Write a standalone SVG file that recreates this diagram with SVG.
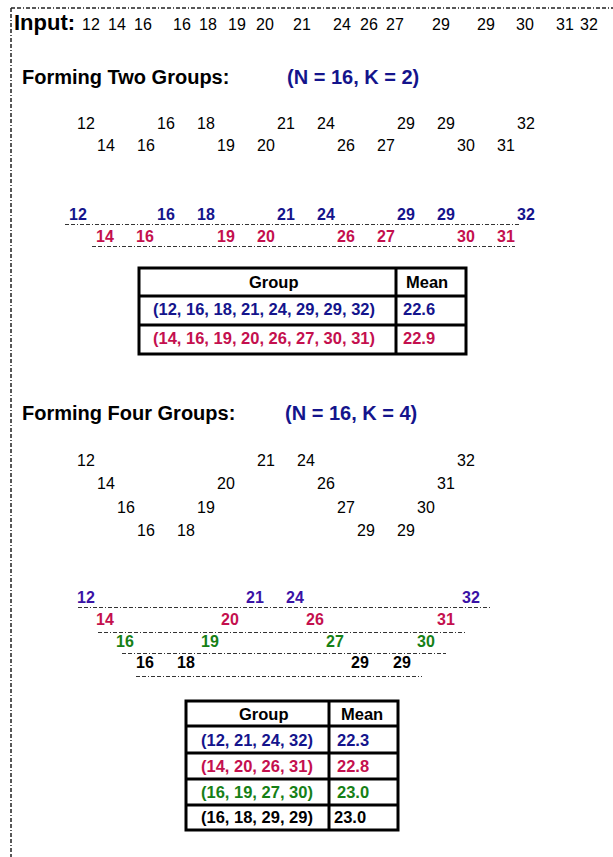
<svg xmlns="http://www.w3.org/2000/svg" width="613" height="857" viewBox="0 0 613 857">
<style>
text{font-family:"Liberation Sans",Arial,sans-serif;fill:#000}
.t{font-size:16px}
.n{font-size:16px}
.b{font-size:16px;font-weight:bold}
.h{font-size:20px;font-weight:bold}
.tb{font-size:16.5px;font-weight:bold}
.navy{fill:#14148c}
.red{fill:#c4104e}
.grn{fill:#168016}
.pur{fill:#3a12a6}
.dl{stroke:#333;stroke-width:1;stroke-dasharray:4 2 4 2 1 2;fill:none}
.bd{stroke:#222;stroke-width:1.5;stroke-dasharray:4 2 4 2 1 2;fill:none}
.tbl{stroke:#000;stroke-width:3;fill:#fff}
.tl{stroke:#000;stroke-width:3}
</style>
<rect width="613" height="857" fill="#fff"/>
<g id="border">
<line class="bd" x1="11" y1="8" x2="613" y2="8"/>
<line class="bd" x1="11" y1="8" x2="11" y2="857"/>
</g>
<g id="input">
<text x="14" y="30" style="font-size:22px;font-weight:bold">Input:</text>
<text class="t" y="30"><tspan x="82">12</tspan><tspan x="108">14</tspan><tspan x="134">16</tspan><tspan x="173">16</tspan><tspan x="199">18</tspan><tspan x="228">19</tspan><tspan x="256">20</tspan><tspan x="293">21</tspan><tspan x="333">24</tspan><tspan x="360">26</tspan><tspan x="386">27</tspan><tspan x="432">29</tspan><tspan x="477">29</tspan><tspan x="516">30</tspan><tspan x="556">31</tspan><tspan x="580">32</tspan></text>
</g>
<g id="two-groups-title">
<text class="h" x="22" y="84">Forming Two Groups:</text>
<text class="h navy" x="287" y="84">(N = 16, K = 2)</text>
</g>
<g id="two-groups-scatter">
<text class="n" y="129"><tspan x="77">12</tspan><tspan x="157">16</tspan><tspan x="197">18</tspan><tspan x="277">21</tspan><tspan x="317">24</tspan><tspan x="397">29</tspan><tspan x="437">29</tspan><tspan x="517">32</tspan></text>
<text class="n" y="151"><tspan x="97">14</tspan><tspan x="137">16</tspan><tspan x="217">19</tspan><tspan x="257">20</tspan><tspan x="337">26</tspan><tspan x="377">27</tspan><tspan x="457">30</tspan><tspan x="497">31</tspan></text>
</g>
<g id="two-groups-rows">
<text class="b navy" y="220"><tspan x="69">12</tspan><tspan x="157">16</tspan><tspan x="197">18</tspan><tspan x="277">21</tspan><tspan x="317">24</tspan><tspan x="397">29</tspan><tspan x="437">29</tspan><tspan x="517">32</tspan></text>
<text class="b red" y="242"><tspan x="96">14</tspan><tspan x="136">16</tspan><tspan x="217">19</tspan><tspan x="257">20</tspan><tspan x="337">26</tspan><tspan x="377">27</tspan><tspan x="457">30</tspan><tspan x="497">31</tspan></text>
</g>
<g id="connectors">
<line class="dl" x1="65" y1="224.5" x2="520" y2="224.5"/>
<line class="dl" x1="92" y1="246.5" x2="515" y2="246.5"/>
<line class="dl" x1="78" y1="607.5" x2="490" y2="607.5"/>
<line class="dl" x1="98" y1="632.5" x2="465" y2="632.5"/>
<line class="dl" x1="122" y1="653.5" x2="446" y2="653.5"/>
<line class="dl" x1="136" y1="676.5" x2="422" y2="676.5"/>
</g>
<g id="table-two">
<rect class="tbl" x="139" y="268" width="327" height="86"/>
<line class="tl" x1="396" y1="268" x2="396" y2="354"/>
<line class="tl" x1="139" y1="296" x2="466" y2="296"/>
<line class="tl" x1="139" y1="325" x2="466" y2="325"/>
<text class="tb" x="249" y="288">Group</text>
<text class="tb" x="406" y="288">Mean</text>
<text class="tb navy" x="153" y="315">(12, 16, 18, 21, 24, 29, 29, 32)</text>
<text class="tb navy" x="403" y="315">22.6</text>
<text class="tb red" x="153" y="344">(14, 16, 19, 20, 26, 27, 30, 31)</text>
<text class="tb red" x="403" y="344">22.9</text>
</g>
<g id="four-groups-title">
<text class="h" x="22" y="420">Forming Four Groups:</text>
<text class="h navy" x="285" y="420">(N = 16, K = 4)</text>
</g>
<g id="four-groups-scatter">
<text class="n" y="466"><tspan x="77">12</tspan><tspan x="257">21</tspan><tspan x="297">24</tspan><tspan x="457">32</tspan></text>
<text class="n" y="489"><tspan x="97">14</tspan><tspan x="217">20</tspan><tspan x="317">26</tspan><tspan x="437">31</tspan></text>
<text class="n" y="513"><tspan x="117">16</tspan><tspan x="197">19</tspan><tspan x="337">27</tspan><tspan x="417">30</tspan></text>
<text class="n" y="536"><tspan x="137">16</tspan><tspan x="177">18</tspan><tspan x="357">29</tspan><tspan x="397">29</tspan></text>
</g>
<g id="four-groups-rows">
<text class="b pur" y="603"><tspan x="77">12</tspan><tspan x="246">21</tspan><tspan x="286">24</tspan><tspan x="462">32</tspan></text>
<text class="b red" y="625"><tspan x="96">14</tspan><tspan x="221">20</tspan><tspan x="306">26</tspan><tspan x="437">31</tspan></text>
<text class="b grn" y="647"><tspan x="116">16</tspan><tspan x="201">19</tspan><tspan x="326">27</tspan><tspan x="417">30</tspan></text>
<text class="b" y="668"><tspan x="136">16</tspan><tspan x="177">18</tspan><tspan x="351">29</tspan><tspan x="393">29</tspan></text>
</g>
<g id="table-four">
<rect class="tbl" x="186" y="701" width="212" height="129"/>
<line class="tl" x1="329" y1="701" x2="329" y2="830"/>
<line class="tl" x1="186" y1="726" x2="398" y2="726"/>
<line class="tl" x1="186" y1="753" x2="398" y2="753"/>
<line class="tl" x1="186" y1="779" x2="398" y2="779"/>
<line class="tl" x1="186" y1="805" x2="398" y2="805"/>
<text class="tb" x="239" y="720">Group</text>
<text class="tb" x="341" y="720">Mean</text>
<text class="tb navy" x="201" y="746">(12, 21, 24, 32)</text>
<text class="tb navy" x="337" y="746">22.3</text>
<text class="tb red" x="201" y="772">(14, 20, 26, 31)</text>
<text class="tb red" x="337" y="772">22.8</text>
<text class="tb grn" x="201" y="798">(16, 19, 27, 30)</text>
<text class="tb grn" x="337" y="798">23.0</text>
<text class="tb" x="201" y="823">(16, 18, 29, 29)</text>
<text class="tb" x="334" y="823">23.0</text>
</g>
</svg>
